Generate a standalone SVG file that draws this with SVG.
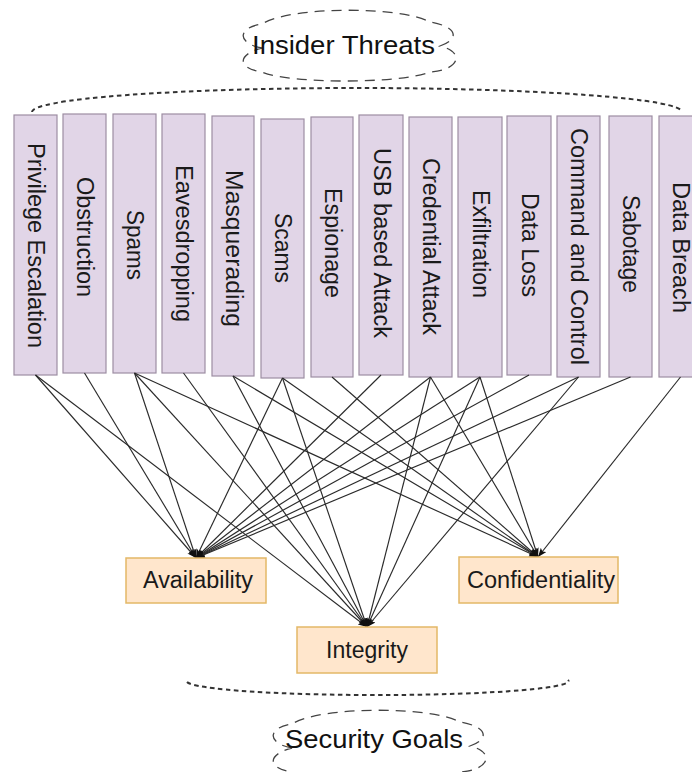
<svg xmlns="http://www.w3.org/2000/svg" width="692" height="772" viewBox="0 0 692 772">
  <style>
    .threat rect { fill: #e1d5e7; stroke: #9d8ea3; stroke-width: 1.2; }
    .threat text { font-family: "Liberation Sans", Arial, sans-serif; font-size: 23px; fill: #1a1a1a; text-anchor: middle; dominant-baseline: central; }
    .goal rect { fill: #ffe6cc; stroke: #e3b867; stroke-width: 1.5; }
    .goal text { font-family: "Liberation Sans", Arial, sans-serif; font-size: 23px; fill: #1a1a1a; text-anchor: middle; }
    .cloud path { fill: none; stroke: #444; stroke-width: 1.3; stroke-dasharray: 10 7; }
    .cloud text { font-family: "Liberation Sans", Arial, sans-serif; font-size: 25px; fill: #111; }
    .brace { fill: none; stroke: #333; stroke-width: 2; stroke-dasharray: 4.5 3.5; }
    #connectors line { stroke: #2a2a2a; stroke-width: 1.15; marker-end: url(#arr); }
  </style>
  <defs>
    <marker id="arr" viewBox="0 0 9 7" refX="9" refY="3.5" markerWidth="9" markerHeight="7" markerUnits="userSpaceOnUse" orient="auto">
      <path d="M0,0 L9,3.5 L0,7 L2,3.5 z" fill="#111"/>
    </marker>
  </defs>
  <rect width="692" height="772" fill="#ffffff"/>

  <!-- Insider Threats cloud -->
  <g id="insider-threats" class="cloud">
    <path d="M262,48 C238,44 236,28 262,24 C290,6 400,6 430,22 C455,26 462,38 440,46 C465,52 460,70 430,72 C400,84 290,84 262,72 C236,68 238,54 262,48 Z"/>
    <text x="252" y="54" textLength="183" lengthAdjust="spacingAndGlyphs">Insider Threats</text>
  </g>

  <!-- grouping braces -->
  <path id="top-brace" class="brace" d="M32,112 A325,24 0 0 1 682,112"/>
  <path id="bottom-brace" class="brace" d="M187,682 A190,14 0 0 0 568,680"/>

  <!-- Threat nodes -->
  <g id="privilege-escalation" class="threat">
    <rect x="14" y="115" width="43" height="260"/>
    <text x="36" y="245.5" transform="rotate(90 36 245.5)" textLength="205" lengthAdjust="spacingAndGlyphs">Privilege Escalation</text>
  </g>
  <g id="obstruction" class="threat">
    <rect x="63" y="114" width="43" height="259"/>
    <text x="85" y="237" transform="rotate(90 85 237)" textLength="120" lengthAdjust="spacingAndGlyphs">Obstruction</text>
  </g>
  <g id="spams" class="threat">
    <rect x="113" y="114" width="43" height="259"/>
    <text x="135" y="245" transform="rotate(90 135 245)" textLength="70" lengthAdjust="spacingAndGlyphs">Spams</text>
  </g>
  <g id="eavesdropping" class="threat">
    <rect x="162" y="114" width="43" height="259"/>
    <text x="184" y="243.5" transform="rotate(90 184 243.5)" textLength="157" lengthAdjust="spacingAndGlyphs">Eavesdropping</text>
  </g>
  <g id="masquerading" class="threat">
    <rect x="212" y="116" width="42" height="260"/>
    <text x="233.5" y="248.5" transform="rotate(90 233.5 248.5)" textLength="157" lengthAdjust="spacingAndGlyphs">Masquerading</text>
  </g>
  <g id="scams" class="threat">
    <rect x="261" y="119" width="43" height="259"/>
    <text x="283" y="248" transform="rotate(90 283 248)" textLength="70" lengthAdjust="spacingAndGlyphs">Scams</text>
  </g>
  <g id="espionage" class="threat">
    <rect x="311" y="117" width="42" height="260"/>
    <text x="332.5" y="243" transform="rotate(90 332.5 243)" textLength="110" lengthAdjust="spacingAndGlyphs">Espionage</text>
  </g>
  <g id="usb-based-attack" class="threat">
    <rect x="359" y="115" width="44" height="260"/>
    <text x="381.5" y="243" transform="rotate(90 381.5 243)" textLength="190" lengthAdjust="spacingAndGlyphs">USB based Attack</text>
  </g>
  <g id="credential-attack" class="threat">
    <rect x="409" y="117" width="43" height="260"/>
    <text x="431" y="246.5" transform="rotate(90 431 246.5)" textLength="177" lengthAdjust="spacingAndGlyphs">Credential Attack</text>
  </g>
  <g id="exfiltration" class="threat">
    <rect x="458" y="117" width="44" height="260"/>
    <text x="480.5" y="244" transform="rotate(90 480.5 244)" textLength="108" lengthAdjust="spacingAndGlyphs">Exfiltration</text>
  </g>
  <g id="data-loss" class="threat">
    <rect x="507" y="116" width="44" height="259"/>
    <text x="529.5" y="245" transform="rotate(90 529.5 245)" textLength="104" lengthAdjust="spacingAndGlyphs">Data Loss</text>
  </g>
  <g id="command-and-control" class="threat">
    <rect x="557" y="116" width="43" height="261"/>
    <text x="579" y="246.5" transform="rotate(90 579 246.5)" textLength="237" lengthAdjust="spacingAndGlyphs">Command and Control</text>
  </g>
  <g id="sabotage" class="threat">
    <rect x="609" y="116" width="43" height="261"/>
    <text x="631" y="244" transform="rotate(90 631 244)" textLength="98" lengthAdjust="spacingAndGlyphs">Sabotage</text>
  </g>
  <g id="data-breach" class="threat">
    <rect x="659" y="116" width="43" height="261"/>
    <text x="680.5" y="247.5" transform="rotate(90 680.5 247.5)" textLength="131" lengthAdjust="spacingAndGlyphs">Data Breach</text>
  </g>

  <!-- Connectors -->
  <g id="connectors">
    <line x1="35.5" y1="375" x2="196" y2="558"/>
    <line x1="35.5" y1="375" x2="367" y2="627"/>
    <line x1="84.5" y1="373" x2="196" y2="558"/>
    <line x1="134.5" y1="373" x2="196" y2="558"/>
    <line x1="134.5" y1="373" x2="367" y2="627"/>
    <line x1="134.5" y1="373" x2="538" y2="557"/>
    <line x1="183.5" y1="373" x2="367" y2="627"/>
    <line x1="233" y1="376" x2="367" y2="627"/>
    <line x1="233" y1="376" x2="538" y2="557"/>
    <line x1="282.5" y1="378" x2="196" y2="558"/>
    <line x1="282.5" y1="378" x2="367" y2="627"/>
    <line x1="282.5" y1="378" x2="538" y2="557"/>
    <line x1="332" y1="377" x2="538" y2="557"/>
    <line x1="381" y1="375" x2="196" y2="558"/>
    <line x1="430.5" y1="377" x2="196" y2="558"/>
    <line x1="430.5" y1="377" x2="367" y2="627"/>
    <line x1="430.5" y1="377" x2="538" y2="557"/>
    <line x1="480" y1="377" x2="196" y2="558"/>
    <line x1="480" y1="377" x2="367" y2="627"/>
    <line x1="480" y1="377" x2="538" y2="557"/>
    <line x1="529" y1="375" x2="196" y2="558"/>
    <line x1="578.5" y1="377" x2="196" y2="558"/>
    <line x1="578.5" y1="377" x2="367" y2="627"/>
    <line x1="630.5" y1="377" x2="196" y2="558"/>
    <line x1="680.5" y1="377" x2="538" y2="557"/>
  </g>

  <!-- Security goal nodes -->
  <g id="availability" class="goal">
    <rect x="126" y="558" width="140" height="45"/>
    <text x="198" y="588" textLength="110" lengthAdjust="spacingAndGlyphs">Availability</text>
  </g>
  <g id="integrity" class="goal">
    <rect x="297" y="627" width="140" height="46"/>
    <text x="367" y="658" textLength="82" lengthAdjust="spacingAndGlyphs">Integrity</text>
  </g>
  <g id="confidentiality" class="goal">
    <rect x="459" y="557" width="159" height="46"/>
    <text x="541" y="588" textLength="148" lengthAdjust="spacingAndGlyphs">Confidentiality</text>
  </g>

  <!-- Security Goals cloud -->
  <g id="security-goals" class="cloud">
    <path d="M292,748 C268,744 266,728 292,724 C320,706 430,706 460,722 C485,726 492,738 470,746 C495,752 490,770 460,772 C430,784 320,784 292,772 C266,768 268,754 292,748 Z"/>
    <text x="285" y="748" textLength="178" lengthAdjust="spacingAndGlyphs" style="font-size:26px">Security Goals</text>
  </g>
</svg>
